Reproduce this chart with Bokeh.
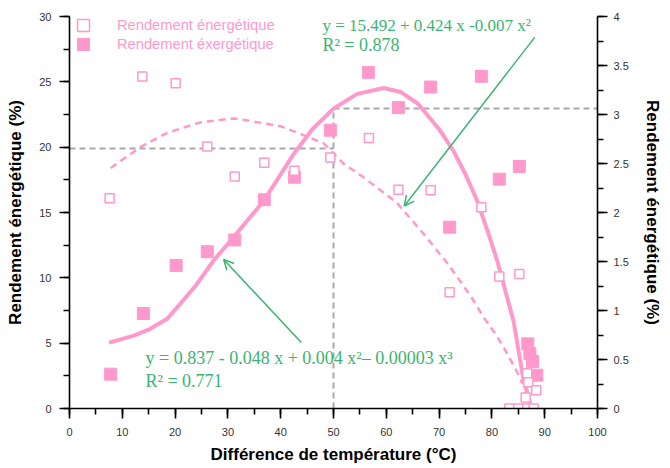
from math import pi
from bokeh.plotting import figure
from bokeh.models import (Range1d, LinearAxis, SingleIntervalTicker, Legend, LegendItem,
                          Label, Arrow, OpenHead)
from bokeh.embed import file_html
from bokeh.resources import INLINE

PINK = "#ff99cc"
GREEN = "#3cb371"
GRAY = "#a8a8a8"

# ---- data (left axis: énergétique %, right axis: éxergétique %) ----
energ_x = [7.6, 13.8, 20.1, 26.1, 31.3, 36.9, 42.6, 49.4, 56.7, 62.3, 68.4, 72.0, 78.0,
           81.4, 85.2, 86.7, 86.9, 88.4, 86.4, 83.3, 85.0, 86.7, 87.9]
energ_y = [16.1, 25.4, 24.9, 20.05, 17.75, 18.8, 18.2, 19.2, 20.7, 16.75, 16.7, 8.9, 15.4,
           10.1, 10.3, 2.7, 2.0, 1.4, 0.85, 0.0, 0.0, 0.0, 0.0]

exerg_x = [7.8, 14.0, 20.2, 26.1, 31.3, 36.9, 42.6, 49.4, 56.6, 62.3, 68.4, 72.0, 78.0,
           81.4, 85.2, 86.8, 87.2, 87.7, 88.5, 85.8]
exerg_y = [0.35, 0.97, 1.46, 1.60, 1.72, 2.13, 2.36, 2.84, 3.43, 3.07, 3.28, 1.85, 3.39,
           2.34, 2.47, 0.66, 0.56, 0.48, 0.34, -0.05]

# fitted curves
fit_energ_x = [7.8, 13.4, 18.5, 24.8, 31.0, 34.3, 40.0, 43.8, 48.1, 52.0, 55.7, 62.1,
               67.0, 71.6, 76.0, 78.4, 80.7, 82.2, 84.5, 85.8]
fit_energ_y = [18.4, 20.0, 21.1, 21.9, 22.2, 22.0, 21.6, 21.0, 20.3, 18.7, 17.7, 15.7,
               13.4, 11.1, 8.6, 7.0, 5.7, 4.7, 3.0, 1.9]

fit_exerg_x = [7.8, 10.0, 12.2, 15.3, 18.5, 21.0, 24.0, 27.3, 31.1, 36.8, 42.5, 46.0, 50.0,
               54.5, 59.5, 62.7, 66.0, 70.0, 72.7, 75.0, 77.2, 79.0, 81.0, 83.0, 84.1,
               86.0, 87.2]
fit_exerg_y = [0.676, 0.71, 0.744, 0.813, 0.915, 1.07, 1.26, 1.51, 1.75, 2.12, 2.60, 2.85,
               3.06, 3.21, 3.27, 3.23, 3.11, 2.85, 2.63, 2.39, 2.12, 1.84, 1.51, 1.11,
               0.89, 0.29, 0.07]

# reference (dashed grey) guide values
guide_x = 50
guide_left_y = 19.9
guide_right_y = 3.06

right_ticks = [0, 0.5, 1, 1.5, 2, 2.5, 3, 3.5, 4]
right_tick_labels = ["0", "0.5", "1", "1.5", "2", "2.5", "3", "3.5", "4"]

eq_top = "y = 15.492 + 0.424 x -0.007 x\u00b2"
r2_top = "R\u00b2 = 0.878"
eq_bot = "y = 0.837 - 0.048 x + 0.004 x\u00b2\u2013 0.00003 x\u00b3"
r2_bot = "R\u00b2 = 0.771"

p = figure(width=670, height=468, x_range=Range1d(0, 100), y_range=Range1d(0, 30),
           output_backend="svg", toolbar_location=None,
           min_border_left=69, min_border_right=73, min_border_top=16, min_border_bottom=60,
           x_axis_location="below", y_axis_location="left")
p.extra_y_ranges = {"right": Range1d(0, 4)}
p.outline_line_color = None
p.xgrid.visible = False
p.ygrid.visible = False
p.background_fill_color = "white"

p.xaxis.ticker = SingleIntervalTicker(interval=10, num_minor_ticks=2)
p.yaxis.ticker = SingleIntervalTicker(interval=5, num_minor_ticks=2)
raxis = LinearAxis(y_range_name="right", ticker=SingleIntervalTicker(interval=0.5, num_minor_ticks=2))
raxis.major_label_overrides = {t: s for t, s in zip(right_ticks, right_tick_labels)}
p.add_layout(raxis, "right")

for ax in [p.xaxis[0], p.yaxis[0], raxis]:
    ax.axis_line_color = "black"
    ax.axis_line_width = 1.6
    ax.major_tick_line_color = "black"
    ax.major_tick_line_width = 1.6
    ax.minor_tick_line_color = "black"
    ax.minor_tick_line_width = 1.6
    ax.major_tick_out = 10
    ax.major_tick_in = 0
    ax.minor_tick_out = 6
    ax.minor_tick_in = 0
    ax.major_label_text_font = "Liberation Sans"
    ax.major_label_text_font_size = "11px"
    ax.major_label_text_color = "#333333"
    ax.axis_label_text_font = "Liberation Sans"
    ax.axis_label_text_font_style = "bold"
    ax.axis_label_text_font_size = "17px"
    ax.axis_label_text_color = "black"

p.xaxis.major_label_standoff = 9
p.yaxis.major_label_standoff = 8
raxis.major_label_standoff = 6
p.xaxis.axis_label = "Diff\u00e9rence de temp\u00e9rature (\u00b0C)"
p.xaxis.axis_label_standoff = 6
p.yaxis.axis_label = "Rendement \u00e9nerg\u00e9tique (%)"
p.yaxis.axis_label_standoff = 11

# dashed grey guides
p.line([0, guide_x], [guide_left_y, guide_left_y], line_color=GRAY, line_width=2, line_dash="6 4")
p.line([guide_x, guide_x], [0, guide_right_y], line_color=GRAY, line_width=2, line_dash="6 4",
       y_range_name="right")
p.line([guide_x, 100], [guide_right_y, guide_right_y], line_color=GRAY, line_width=2,
       line_dash="6 4", y_range_name="right")

# fitted curves
p.line(fit_energ_x, fit_energ_y, line_color=PINK, line_width=2.5, line_dash="7 5")
p.line(fit_exerg_x, fit_exerg_y, line_color=PINK, line_width=4, y_range_name="right",
       line_join="round", line_cap="round")

r_ex = p.scatter(exerg_x, exerg_y, marker="square", size=12, fill_color=PINK,
                 line_color=PINK, y_range_name="right")
r_en = p.scatter(energ_x, energ_y, marker="square", size=9, fill_color="white",
                 line_color=PINK, line_width=1.5)

leg1 = Legend(items=[LegendItem(label="Rendement \u00e9nerg\u00e9tique", renderers=[r_en])],
              location=(-1, 368))
leg2 = Legend(items=[LegendItem(label="Rendement \u00e9xerg\u00e9tique", renderers=[r_ex])],
              location=(-1, 349))
for lg in (leg1, leg2):
    lg.glyph_width = 30
    lg.glyph_height = 30
    lg.label_height = 30
    lg.padding = 0
    lg.margin = 0
    lg.spacing = 0
    lg.label_standoff = 19
    lg.label_text_color = PINK
    lg.label_text_font = "Liberation Sans"
    lg.label_text_font_size = "14.7px"
    lg.background_fill_alpha = 0
    lg.border_line_alpha = 0
    p.add_layout(lg, "center")

# equations
for txt, x, y, fs in [(eq_top, 47.9, 29.3, "17px"), (r2_top, 47.9, 27.85, "18px"),
                      (eq_bot, 14.4, 3.83, "18px"), (r2_bot, 14.4, 2.14, "18px")]:
    p.add_layout(Label(x=x, y=y, text=txt, text_font="Liberation Serif", text_font_size=fs,
                       text_color=GREEN, text_baseline="middle", text_align="left"))

# arrows
p.add_layout(Arrow(end=OpenHead(size=10, line_color=GREEN, line_width=1.5),
                   x_start=88.1, y_start=28.4, x_end=63.4, y_end=15.5,
                   line_color=GREEN, line_width=1.5))
p.add_layout(Arrow(end=OpenHead(size=10, line_color=GREEN, line_width=1.5),
                   x_start=43.9, y_start=5.05, x_end=29.2, y_end=11.4,
                   line_color=GREEN, line_width=1.5))

# right axis title (reads bottom-to-top as in the reference)
p.add_layout(Label(x=111.6, y=15, text="Rendement \u00e9xerg\u00e9tique (%)", angle=pi / 2,
                   text_font="Liberation Sans", text_font_style="bold", text_font_size="17px",
                   text_color="black", text_align="center", text_baseline="middle"))

open("out.html", "w").write(file_html(p, INLINE))
